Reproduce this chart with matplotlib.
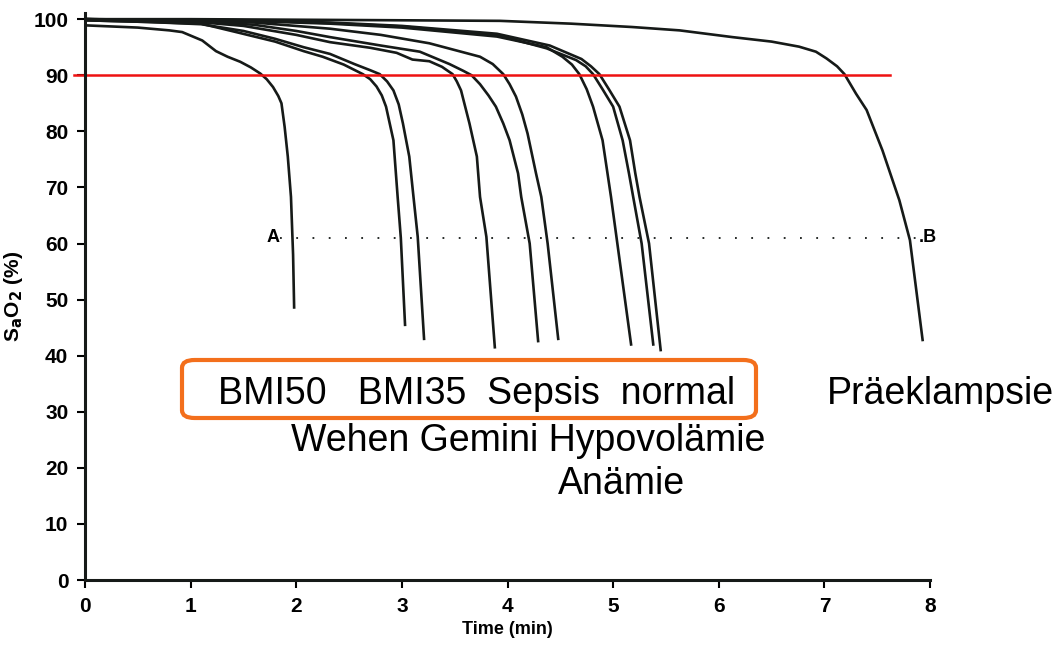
import matplotlib
matplotlib.use('Agg')
import matplotlib.pyplot as plt
from matplotlib.patches import FancyBboxPatch

plt.rcParams['font.family'] = ['Liberation Sans', 'DejaVu Sans']

# desaturation curves: time (min) and SaO2 (%)
t_bmi50 = [0, 0.5, 0.8, 0.92, 1.11, 1.24, 1.35, 1.47, 1.57, 1.66, 1.72, 1.78, 1.83, 1.86, 1.89, 1.92, 1.95, 1.97, 1.98]
s_bmi50 = [98.9, 98.5, 98.0, 97.7, 96.2, 94.3, 93.3, 92.4, 91.4, 90.3, 89.3, 87.9, 86.3, 85.0, 80.8, 75.5, 68.3, 58.0, 48.6]

t_bmi35 = [0, 0.6, 1.1, 1.43, 1.8, 2.07, 2.25, 2.45, 2.63, 2.70, 2.76, 2.81, 2.85, 2.92, 2.96, 2.99, 3.03]
s_bmi35 = [99.8, 99.5, 99.2, 97.7, 96.0, 94.3, 93.3, 91.9, 90.2, 89.3, 88.0, 86.4, 84.4, 78.4, 68.3, 61.0, 45.5]

t_wehen = [0, 0.6, 1.1, 1.5, 1.8, 2.07, 2.32, 2.55, 2.70, 2.79, 2.86, 2.92, 2.97, 3.01, 3.07, 3.11, 3.15, 3.21]
s_wehen = [99.8, 99.5, 99.1, 97.9, 96.5, 95.0, 93.8, 92.0, 90.9, 90.2, 88.9, 87.3, 84.8, 81.4, 75.5, 68.3, 61.2, 43.0]

t_sepsis = [0, 1.0, 1.5, 2.0, 2.32, 2.7, 2.95, 3.1, 3.26, 3.38, 3.48, 3.52, 3.56, 3.64, 3.71, 3.74, 3.80, 3.88]
s_sepsis = [100, 99.6, 98.8, 97.2, 95.9, 94.9, 94.0, 92.8, 92.5, 91.5, 90.2, 88.9, 87.3, 81.4, 75.5, 68.3, 61.2, 41.5]

t_gemini = [0, 1.0, 1.6, 2.0, 2.32, 2.8, 3.17, 3.45, 3.58, 3.66, 3.74, 3.82, 3.89, 3.96, 4.02, 4.1, 4.13, 4.21, 4.29]
s_gemini = [100, 99.7, 99.0, 97.9, 96.8, 95.3, 94.2, 92.0, 90.8, 90.0, 88.4, 86.4, 84.4, 81.4, 78.4, 72.5, 68.3, 60.0, 42.6]

t_normal = [0, 1.0, 1.6, 2.32, 2.8, 3.26, 3.5, 3.74, 3.86, 3.96, 4.02, 4.08, 4.14, 4.19, 4.27, 4.32, 4.38, 4.48]
s_normal = [100, 99.8, 99.4, 98.3, 97.2, 95.7, 94.5, 93.3, 92.0, 90.2, 88.4, 86.2, 83.0, 79.6, 72.5, 68.3, 60.0, 43.0]

t_hypo = [0, 1.5, 2.32, 3.0, 3.9, 4.37, 4.52, 4.61, 4.68, 4.75, 4.81, 4.9, 4.98, 5.04, 5.17]
s_hypo = [100, 99.7, 99.2, 98.5, 96.9, 95.0, 93.3, 91.9, 90.2, 87.5, 84.4, 78.4, 68.3, 60.0, 42.0]

t_anaemie = [0, 1.5, 2.32, 3.0, 3.9, 4.37, 4.65, 4.74, 4.81, 4.9, 5.0, 5.09, 5.15, 5.19, 5.27, 5.38]
s_anaemie = [100, 99.8, 99.3, 98.7, 97.2, 94.8, 92.7, 91.6, 90.2, 87.5, 84.4, 78.4, 72.5, 68.3, 60.0, 42.0]

t_extra = [0, 1.5, 2.32, 3.0, 3.9, 4.4, 4.7, 4.79, 4.87, 4.96, 5.06, 5.16, 5.21, 5.25, 5.34, 5.45]
s_extra = [100, 99.8, 99.4, 98.8, 97.4, 95.3, 92.9, 91.6, 90.2, 87.5, 84.4, 78.4, 72.5, 68.3, 60.0, 41.0]

t_praeek = [0, 1, 2, 3, 3.93, 4.6, 5.18, 5.63, 6.13, 6.5, 6.76, 6.92, 7.02, 7.12, 7.19, 7.30, 7.4, 7.55, 7.71, 7.81, 7.93]
s_praeek = [100, 100, 99.9, 99.8, 99.7, 99.2, 98.6, 98.0, 96.8, 96.0, 95.1, 94.2, 93.0, 91.6, 90.2, 86.7, 83.8, 76.6, 67.7, 60.6, 42.8]

curves = [(t_bmi50, s_bmi50), (t_bmi35, s_bmi35), (t_wehen, s_wehen),
          (t_sepsis, s_sepsis), (t_gemini, s_gemini), (t_normal, s_normal),
          (t_hypo, s_hypo), (t_anaemie, s_anaemie), (t_extra, s_extra),
          (t_praeek, s_praeek)]

# dotted A-B marker line and the 90 % threshold
ab_t = [1.85, 7.88]
ab_s = 61
threshold = 90
threshold_t = [-0.1, 7.62]

x_ticks = list(range(0, 9))
y_ticks = list(range(0, 101, 10))

W, H = 1054, 650
fig = plt.figure(figsize=(W / 100, H / 100), dpi=100)
ax = fig.add_axes([85 / W, 1 - 580 / H, 845 / W, 567 / H])

for t, s in curves:
    ax.plot(t, s, color='#161a18', linewidth=1.9, solid_joinstyle='round')

ax.plot(ab_t, [ab_s, ab_s], color='#161a18', linewidth=1.3, linestyle=(0, (1, 8)))
ax.text(1.84, ab_s, 'A', ha='right', va='center', fontsize=13, fontweight='bold')
ax.text(7.89, ab_s, '.B', ha='left', va='center', fontsize=13, fontweight='bold')

ax.plot(threshold_t, [threshold, threshold], color='#ee1111', linewidth=1.8, clip_on=False)

ax.set_xlim(0, 8)
ax.set_ylim(0, 101.1)
ax.set_xticks(x_ticks)
ax.set_yticks(y_ticks)
ax.tick_params(axis='both', labelsize=15, width=1.5, length=6, direction='out', pad=6)
for lbl in ax.get_xticklabels() + ax.get_yticklabels():
    lbl.set_fontweight('bold')
for side in ['top', 'right']:
    ax.spines[side].set_visible(False)
for side in ['left', 'bottom']:
    ax.spines[side].set_linewidth(2.2)
    ax.spines[side].set_color('#161a18')

ax.set_xlabel('Time (min)', fontsize=13, fontweight='bold', labelpad=4)
ax.set_ylabel('S$_\\mathbf{a}$O$_\\mathbf{2}$ (%)', fontsize=15, fontweight='bold', labelpad=6)

# condition labels
big = 27
fig.text(218 / W, 1 - 404 / H, 'BMI50   BMI35  Sepsis  normal', fontsize=big, va='baseline')
fig.text(827 / W, 1 - 404 / H, 'Präeklampsie', fontsize=big, va='baseline')
fig.text(291 / W, 1 - 451 / H, 'Wehen Gemini Hypovolämie', fontsize=big, va='baseline')
fig.text(558 / W, 1 - 494 / H, 'Anämie', fontsize=big, va='baseline')

box = FancyBboxPatch((182 / W, 1 - 418 / H), 574 / W, 58 / H,
                     boxstyle='round,pad=0,rounding_size=0.012',
                     transform=fig.transFigure, facecolor='none',
                     edgecolor='#f36f1c', linewidth=3)
fig.patches.append(box)

fig.savefig('out.png', dpi=100)
